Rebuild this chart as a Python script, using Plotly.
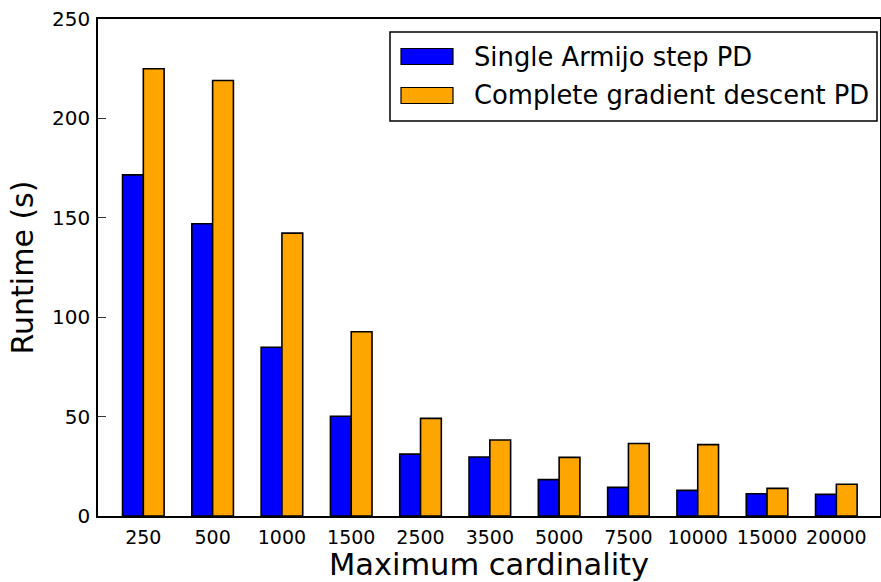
import plotly.graph_objects as go

categories = ["250", "500", "1000", "1500", "2500", "3500", "5000", "7500", "10000", "15000", "20000"]
single_armijo = [171.6, 147.0, 84.9, 50.2, 31.1, 29.7, 18.3, 14.4, 12.9, 11.2, 10.9]
complete_gd = [225.0, 219.1, 142.3, 92.7, 49.1, 38.2, 29.5, 36.5, 35.9, 13.9, 16.0]
series_names = ["Single Armijo step PD", "Complete gradient descent PD"]
series_colors = ["#0000ff", "#ffa500"]

W, H = 881, 582
L, R, T, B = 98, 1, 19, 66
FONT = "DejaVu Sans"

xs = list(range(len(categories)))

fig = go.Figure()
for name, vals, col in zip(series_names, [single_armijo, complete_gd], series_colors):
    fig.add_trace(go.Bar(
        x=xs, y=vals, name=name,
        marker=dict(color=col, line=dict(color="black", width=1.6)),
        showlegend=False,
    ))

pw = W - L - R
ph = H - T - B
def px_to_paper(px, py):
    return (px - L) / pw, (H - B - py) / ph

# custom legend (matplotlib-style box)
x0, y0 = px_to_paper(390, 32)
x1, y1 = px_to_paper(877, 121)
fig.add_shape(type="rect", xref="paper", yref="paper", x0=x0, y0=y1, x1=x1, y1=y0,
              line=dict(color="black", width=1.5), fillcolor="white", layer="above")
rows = [(56.5, series_names[0], series_colors[0]), (95.5, series_names[1], series_colors[1])]
for cy, name, col in rows:
    sx0, sy0 = px_to_paper(401, cy - 8)
    sx1, sy1 = px_to_paper(453, cy + 8)
    fig.add_shape(type="rect", xref="paper", yref="paper", x0=sx0, y0=sy1, x1=sx1, y1=sy0,
                  line=dict(color="black", width=1.2), fillcolor=col, layer="above")
    tx, ty = px_to_paper(472, cy)
    fig.add_annotation(x=tx, y=ty, xref="paper", yref="paper", text=name, showarrow=False,
                       xanchor="left", yanchor="middle",
                       font=dict(family=FONT, size=25.8, color="black"))

fig.update_layout(
    width=W, height=H,
    margin=dict(l=L, r=R, t=T, b=B, autoexpand=False),
    paper_bgcolor="white", plot_bgcolor="white",
    barmode="group", bargap=0.4, bargroupgap=0,
    font=dict(family=FONT, color="black"),
)
fig.update_xaxes(
    range=[-0.654, 10.63], tickmode="array", tickvals=xs, ticktext=categories,
    ticks="", showgrid=False, zeroline=False,
    showline=True, linecolor="black", linewidth=1.6, mirror=True,
    tickfont=dict(family=FONT, size=19), ticklabelstandoff=3,
    title=dict(text="Maximum cardinality", font=dict(family=FONT, size=30.5), standoff=7),
)
fig.update_yaxes(
    range=[0, 250], tickmode="array", tickvals=[0, 50, 100, 150, 200, 250],
    ticks="inside", ticklen=8, tickwidth=1.2, tickcolor="#333",
    showgrid=False, zeroline=False,
    showline=True, linecolor="black", linewidth=1.6, mirror=True,
    tickfont=dict(family=FONT, size=20), ticklabelstandoff=2,
    title=dict(text="Runtime (s)", font=dict(family=FONT, size=30), standoff=10),
)

fig.write_html("out.html")
